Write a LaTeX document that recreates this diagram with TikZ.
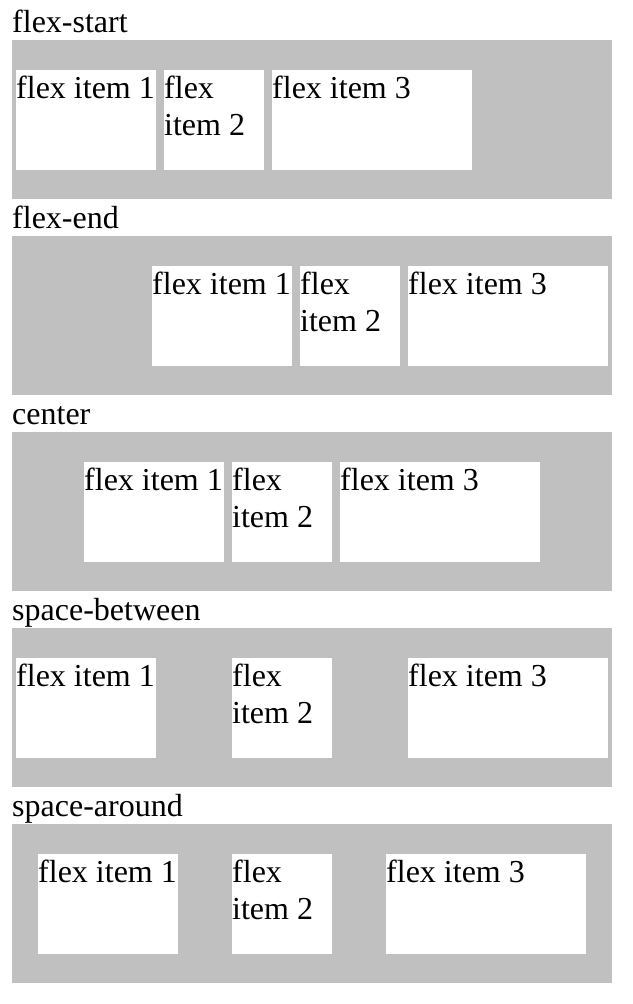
\documentclass[tikz,border=0pt]{standalone}
\usepackage{fontspec}
\setmainfont{Liberation Serif}
\usepackage{tikz}
\usetikzlibrary{positioning}
\definecolor{silver}{HTML}{C0C0C0}

\tikzset{
    title/.style={anchor=base west, inner sep=0pt, font=\fontsize{32}{36.8}\selectfont},
    container/.style={fill=silver, anchor=north west, inner sep=0pt, minimum width=600pt, minimum height=159pt},
    flexitem/.style={fill=white, anchor=north west, inner sep=0pt, align=left, text height=28pt, text depth=72pt,
        font=\fontsize{32}{36.8}\selectfont, execute at begin node={\spaceskip=0pt\xspaceskip=0pt}}
}

\begin{document}
\begin{tikzpicture}[x=1pt, y=-1pt]
    \useasboundingbox (0,0) rectangle (632,1004);

    % flex-start
    \node[title] (starttitle) at (12,32) {flex-start};
    \node[container] (startbox) at (12,40) {};
    \node[flexitem, text width=140pt] (startone) at (16,70) {flex item 1};
    \node[flexitem, text width=100pt] (starttwo) at (164,70) {flex\\item 2};
    \node[flexitem, text width=200pt] (startthree) at (272,70) {flex item 3};

    % flex-end
    \node[title] (endtitle) at (12,228) {flex-end};
    \node[container] (endbox) at (12,236) {};
    \node[flexitem, text width=140pt] (endone) at (152,266) {flex item 1};
    \node[flexitem, text width=100pt] (endtwo) at (300,266) {flex\\item 2};
    \node[flexitem, text width=200pt] (endthree) at (408,266) {flex item 3};

    % center
    \node[title] (centertitle) at (12,424) {center};
    \node[container] (centerbox) at (12,432) {};
    \node[flexitem, text width=140pt] (centerone) at (84,462) {flex item 1};
    \node[flexitem, text width=100pt] (centertwo) at (232,462) {flex\\item 2};
    \node[flexitem, text width=200pt] (centerthree) at (340,462) {flex item 3};

    % space-between
    \node[title] (betweentitle) at (12,620) {space-between};
    \node[container] (betweenbox) at (12,628) {};
    \node[flexitem, text width=140pt] (betweenone) at (16,658) {flex item 1};
    \node[flexitem, text width=100pt] (betweentwo) at (232,658) {flex\\item 2};
    \node[flexitem, text width=200pt] (betweenthree) at (408,658) {flex item 3};

    % space-around
    \node[title] (aroundtitle) at (12,816) {space-around};
    \node[container] (aroundbox) at (12,824) {};
    \node[flexitem, text width=140pt] (aroundone) at (38,854) {flex item 1};
    \node[flexitem, text width=100pt] (aroundtwo) at (232,854) {flex\\item 2};
    \node[flexitem, text width=200pt] (aroundthree) at (386,854) {flex item 3};
\end{tikzpicture}
\end{document}
